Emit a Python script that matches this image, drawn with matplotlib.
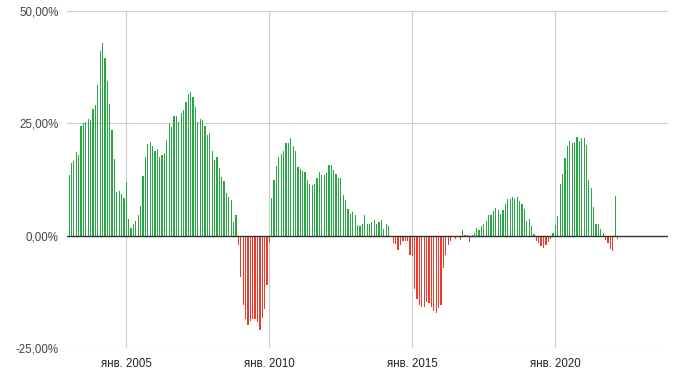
import matplotlib
matplotlib.use("Agg")
import matplotlib.pyplot as plt
import matplotlib.dates as mdates
import numpy as np
import pandas as pd

start_month = "2003-01-01"
values = [
    13.4, 16.2, 16.6, 18.6, 18.0, 24.4, 25.1, 25.3, 26.0, 25.8, 28.2, 29.1,
    33.6, 41.1, 42.9, 39.6, 34.4, 29.3, 23.5, 17.1, 9.7, 9.9, 9.3, 8.4,
    12.0, 3.7, 1.7, 2.5, 3.2, 4.5, 6.5, 13.2, 17.4, 20.3, 20.8, 19.9,
    18.8, 19.2, 17.4, 17.9, 18.3, 21.2, 24.8, 24.1, 26.6, 26.6, 25.4, 27.2,
    27.9, 29.7, 31.5, 31.9, 30.8, 28.6, 25.4, 25.9, 25.8, 24.5, 22.5, 22.9,
    18.9, 16.9, 17.6, 15.1, 13.1, 12.2, 9.6, 8.5, 8.0, 3.1, 4.7, -2.1,
    -9.2, -15.4, -18.6, -19.9, -19.0, -18.6, -18.6, -19.2, -21.0, -18.3, -16.3, -11.0,
    -1.4, 8.3, 12.5, 15.4, 17.4, 18.1, 18.8, 20.6, 20.6, 21.7, 19.9, 18.8,
    15.2, 14.8, 14.3, 14.1, 12.3, 11.4, 11.2, 11.4, 12.8, 14.1, 13.4, 13.4,
    13.9, 15.7, 15.7, 14.6, 13.7, 12.8, 12.8, 9.0, 7.9, 5.9, 4.8, 5.2,
    4.5, 2.3, 2.1, 2.7, 4.5, 2.7, 2.5, 3.0, 3.4, 2.5, 3.0, 3.4,
    1.4, 2.7, 2.1, 0.0, -1.6, -1.8, -3.2, -2.0, -1.1, -1.2, -1.2, -4.2,
    -4.5, -11.9, -14.1, -15.4, -15.8, -15.8, -14.7, -14.9, -15.8, -16.7, -17.1, -16.0,
    -15.4, -7.3, -4.2, -2.0, -1.1, -0.4, -0.7, -0.4, -0.9, 1.3, 0.2, 0.2,
    -1.4, 0.2, 0.7, 1.6, 1.3, 2.2, 2.7, 3.3, 4.5, 4.7, 5.6, 6.2,
    5.8, 4.9, 5.8, 7.1, 8.2, 8.2, 8.7, 8.2, 8.5, 7.8, 7.1, 6.0,
    3.3, 3.8, 2.2, 0.4, -1.1, -1.6, -2.2, -2.7, -2.0, -1.3, -0.7, 0.7,
    2.4, 4.3, 11.4, 13.7, 17.2, 19.9, 21.0, 20.6, 20.8, 21.9, 21.0, 21.7,
    21.7, 20.1, 12.5, 10.5, 6.3, 2.5, 2.5, 1.4, 0.7, -1.0, -1.7, -3.0,
    -3.5, 8.8, -0.8,
]
y_ticks = [-25, 0, 25, 50]
y_tick_labels = ["-25,00%", "0,00%", "25,00%", "50,00%"]
x_tick_years = [2005, 2010, 2015, 2020]
x_tick_labels = ["янв. 2005", "янв. 2010", "янв. 2015", "янв. 2020"]

dates = pd.date_range(start_month, periods=len(values), freq="MS")
vals = np.array(values)
colors = np.where(vals >= 0, "#28a745", "#ee3a2a")

plt.rcParams["font.family"] = ["Liberation Sans", "DejaVu Sans"]

fig = plt.figure(figsize=(6.8, 3.8), dpi=100)
ax = fig.add_axes([67 / 680, 32 / 380, 601 / 680, 337 / 380])

ax.bar(dates, vals, width=15.5, color=colors, linewidth=0, zorder=3)

ax.set_ylim(-25, 50)
x0 = mdates.date2num(pd.Timestamp("2002-12-04"))
x1 = mdates.date2num(pd.Timestamp("2023-12-08"))
ax.set_xlim(x0, x1)

ax.set_yticks(y_ticks)
ax.set_yticklabels(y_tick_labels)
xt = [mdates.date2num(pd.Timestamp(f"{y}-01-01")) for y in x_tick_years]
ax.set_xticks(xt)
ax.set_xticklabels(x_tick_labels)

ax.grid(True, color="#cccccc", linewidth=0.8, zorder=0)
ax.axhline(0, color="#333333", linewidth=1.0, zorder=4)
for s in ax.spines.values():
    s.set_visible(False)
ax.tick_params(axis="both", length=0, labelsize=8.3)
ax.tick_params(axis="y", pad=6, labelcolor="#444444")
ax.tick_params(axis="x", pad=7, labelcolor="#222222")

fig.savefig("out.png", dpi=100)
